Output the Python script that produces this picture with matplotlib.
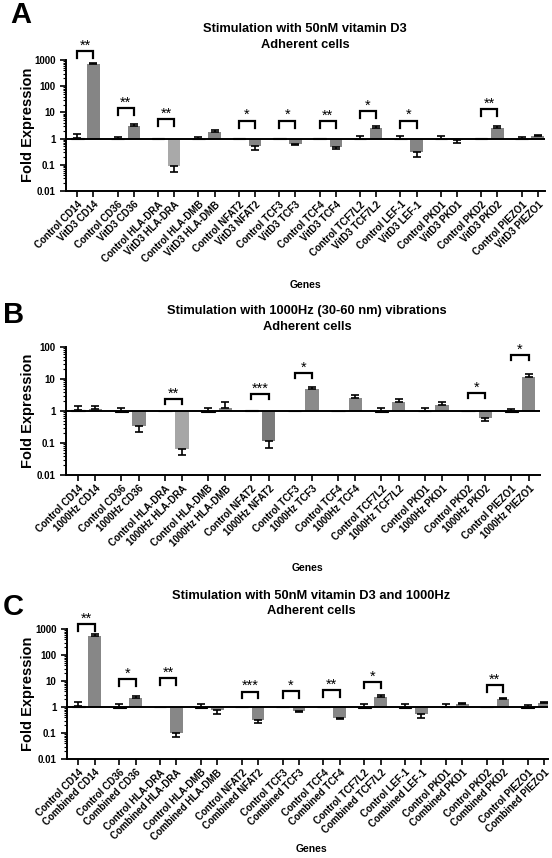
import numpy as np
import matplotlib
matplotlib.use("Agg")
import matplotlib.pyplot as plt
from matplotlib.ticker import LogLocator, FixedLocator, NullFormatter

plt.rcParams['font.family'] = ['Liberation Sans', 'DejaVu Sans']
plt.rcParams['font.weight'] = 'bold'

# ---- panel A : vitamin D3 ----
genes_a = ["CD14", "CD36", "HLA-DRA", "HLA-DMB", "NFAT2", "TCF3", "TCF4",
           "TCF7L2", "LEF-1", "PKD1", "PKD2", "PIEZO1"]
ctrl_a = [1.1, 0.93, 1.05, 0.93, 1.05, 1.05, 1.03, 0.93, 0.93, 0.95, 1.03, 0.93]
ctrl_a_err = [1.45, 1.2, 1.05, 1.2, 1.05, 1.05, 1.03, 1.27, 1.27, 1.3, 1.03, 1.2]
trt_a = [680, 3.05, 0.089, 1.75, 0.52, 0.62, 0.49, 2.65, 0.32, 0.89, 2.5, 1.25]
trt_a_err = [740, 3.6, 0.054, 2.2, 0.37, 0.55, 0.39, 3.15, 0.2, 0.66, 2.9, 1.4]
sig_a = [(0, 2200, "**"), (1, 14.7, "**"), (2, 5.7, "**"), (4, 4.9, "*"),
         (5, 4.9, "*"), (6, 4.8, "**"), (7, 11, "*"), (8, 4.9, "*"),
         (10, 13.8, "**")]

# ---- panel B : 1000Hz vibrations ----
genes_b = ["CD14", "CD36", "HLA-DRA", "HLA-DMB", "NFAT2", "TCF3", "TCF4",
           "TCF7L2", "PKD1", "PKD2", "PIEZO1"]
ctrl_b = [1.05, 0.95, 1.03, 0.93, 1.06, 1.02, 1.03, 0.95, 0.97, 1.03, 0.95]
ctrl_b_err = [1.43, 1.2, 1.03, 1.2, 1.06, 1.02, 1.03, 1.2, 1.27, 1.03, 1.15]
trt_b = [1.12, 0.34, 0.064, 1.24, 0.113, 4.7, 2.5, 1.9, 1.5, 0.61, 11.2]
trt_b_err = [1.4, 0.22, 0.042, 1.9, 0.072, 5.8, 3.2, 2.4, 1.95, 0.49, 14.3]
sig_b = [(2, 2.4, "**"), (4, 3.4, "***"), (5, 15.7, "*"), (9, 3.6, "*"),
         (10, 56, "*")]

# ---- panel C : combined ----
genes_c = genes_a
ctrl_c = [1.08, 0.93, 1.03, 0.93, 1.02, 1.02, 1.02, 0.95, 0.95, 0.96, 1.02, 0.95]
ctrl_c_err = [1.5, 1.3, 1.03, 1.27, 1.02, 1.02, 1.02, 1.27, 1.35, 1.35, 1.02, 1.15]
trt_c = [550, 2.3, 0.1, 0.74, 0.33, 0.7, 0.38, 2.35, 0.52, 1.3, 1.97, 1.4]
trt_c_err = [620, 2.7, 0.07, 0.55, 0.24, 0.62, 0.36, 2.8, 0.38, 1.42, 2.15, 1.6]
sig_c = [(0, 1550, "**"), (1, 11.6, "*"), (2, 12.7, "**"), (4, 3.9, "***"),
         (5, 4.1, "*"), (6, 4.5, "**"), (7, 9.4, "*"), (10, 7.0, "**")]

trt_colors_a = ['#858585'] * 12
trt_colors_a[2] = '#a9a9a9'
trt_colors_b = ['#8a8a8a'] * 11
trt_colors_b[2] = '#a6a6a6'
trt_colors_b[4] = '#7a7a7a'
trt_colors_c = ['#878787'] * 12


def panel(ax, genes, treat_name, ctrl, ctrl_err, trt, trt_err, sig, colors,
          ytop, xright, leg):
    n = len(genes)
    xc = np.arange(n) * 1.0
    xt = xc + 0.4
    w = 0.31
    ax.bar(xc, np.array(ctrl) - 1, bottom=1, width=w, color='#3a3a3a',
           edgecolor='black', lw=0.8, zorder=2)
    ax.bar(xt, np.array(trt) - 1, bottom=1, width=w, color=colors, zorder=2)
    for x, v, e in list(zip(xc, ctrl, ctrl_err)) + list(zip(xt, trt, trt_err)):
        if e == v:
            continue
        if e > v:
            yerr = [[0], [e - v]]
        else:
            yerr = [[v - e], [0]]
        ax.errorbar([x], [v], yerr=yerr, fmt='none', ecolor='black',
                    elinewidth=1.2, capsize=3, capthick=1.2, zorder=3)
    ax.axhline(1, color='black', lw=1.4, zorder=4)
    for i, top, stars in sig:
        lo = top / 10 ** leg
        ax.plot([xc[i], xc[i], xt[i], xt[i]], [lo, top, top, lo], color='black',
                lw=1.6, clip_on=False, solid_joinstyle='miter')
        ax.annotate(stars, ((xc[i] + xt[i]) / 2, top), xytext=(0, 1.0),
                    textcoords='offset points', ha='center', va='baseline',
                    fontsize=10.5, fontweight='normal', annotation_clip=False)
    ax.set_yscale('log')
    ax.set_ylim(0.01, ytop)
    ax.set_xlim(-0.28, xright)
    majors = [10.0 ** k for k in range(-2, int(round(np.log10(ytop))) + 1)]
    ax.yaxis.set_major_locator(FixedLocator(majors))
    ax.set_yticklabels([("%g" % m) for m in majors], fontsize=7, fontweight='bold')
    ax.yaxis.set_minor_locator(LogLocator(base=10, subs=np.arange(2, 10)))
    ax.yaxis.set_minor_formatter(NullFormatter())
    ticks = np.ravel(np.column_stack([xc, xt]))
    labels = []
    for g in genes:
        labels += ["Control " + g, treat_name + " " + g]
    ax.set_xticks(ticks)
    ax.set_xticklabels(labels, rotation=45, ha='right', rotation_mode='anchor',
                       fontsize=7, fontweight='bold')
    ax.tick_params(axis='both', which='major', direction='out', length=4, width=1.2)
    ax.tick_params(axis='y', which='minor', direction='out', length=2, width=0.8)
    ax.tick_params(axis='x', pad=2)
    for s in ['top', 'right']:
        ax.spines[s].set_visible(False)
    for s in ['left', 'bottom']:
        ax.spines[s].set_linewidth(1.4)


fig = plt.figure(figsize=(5.52, 8.58), dpi=100)
W, H = 552.0, 858.0


def axes_px(l, r, t, b):
    return fig.add_axes([l / W, 1 - b / H, (r - l) / W, (b - t) / H])


ax_a = axes_px(66, 545, 60, 191)
panel(ax_a, genes_a, "VitD3", ctrl_a, ctrl_a_err, trt_a, trt_a_err, sig_a,
      trt_colors_a, 1000, 11.58, 0.27)
ax_b = axes_px(66, 540, 347, 475)
panel(ax_b, genes_b, "1000Hz", ctrl_b, ctrl_b_err, trt_b, trt_b_err, sig_b,
      trt_colors_b, 100, 10.66, 0.16)
ax_c = axes_px(67, 548, 629, 759)
panel(ax_c, genes_c, "Combined", ctrl_c, ctrl_c_err, trt_c, trt_c_err, sig_c,
      trt_colors_c, 1000, 11.5, 0.26)

titles = [("Stimulation with 50nM vitamin D3", 305, 28.5, 44.5, "A", 21, 15, 125, 285),
          ("Stimulation with 1000Hz (30-60 nm) vibrations", 307, 311, 327, "B", 14, 315, 411, 568),
          ("Stimulation with 50nM vitamin D3 and 1000Hz", 311, 596, 611, "C", 13, 607, 694, 849)]
for t, tx, ty1, ty2, letter, lx, ly, ylab_y, gy in titles:
    fig.text(tx / W, 1 - ty1 / H, t, ha='center', va='center', fontsize=9.3,
             fontweight='bold')
    fig.text(tx / W, 1 - ty2 / H, "Adherent cells", ha='center', va='center',
             fontsize=9.3, fontweight='bold')
    fig.text(lx / W, 1 - ly / H, letter, ha='center', va='center', fontsize=21,
             fontweight='bold')
    fig.text(28 / W, 1 - ylab_y / H, "Fold Expression", rotation=90, ha='center',
             va='center', fontsize=10.5, fontweight='bold')
    fig.text(tx / W, 1 - gy / H, "Genes", ha='center', va='center', fontsize=7.5,
             fontweight='bold')

fig.savefig("out.png", dpi=100)
